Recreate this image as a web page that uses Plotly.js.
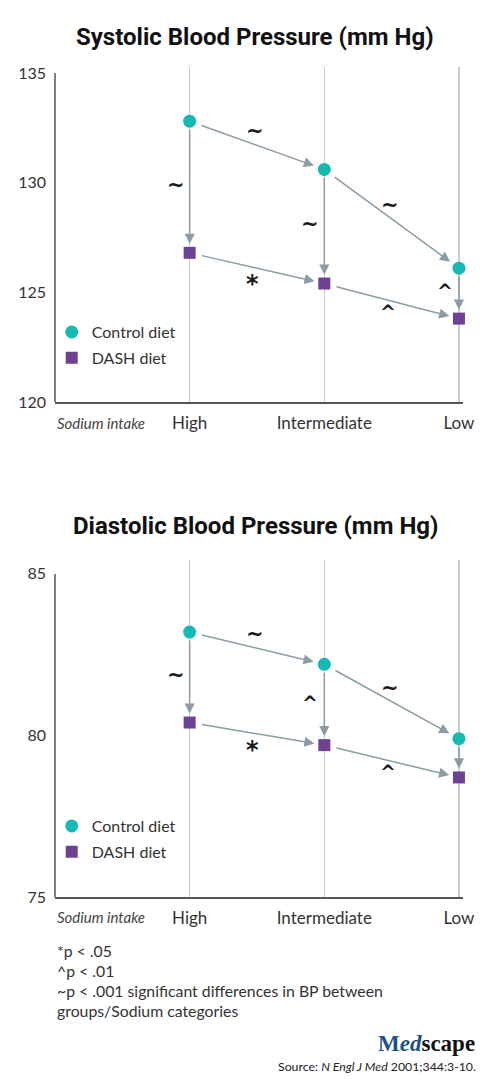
<!DOCTYPE html>
<html>
<head>
<meta charset="utf-8">
<script src="https://cdn.plot.ly/plotly-3.0.1.min.js"></script>
<style>
html,body{margin:0;padding:0;background:#fff;}
#chart{width:500px;height:1080px;}
</style>
</head>
<body>
<div id="chart"></div>
<script>
// ---- data ----
var categories = ['High', 'Intermediate', 'Low'];
var sbpControl = [132.8, 130.6, 126.1];
var sbpDash = [126.8, 125.4, 123.8];
var dbpControl = [83.2, 82.2, 79.9];
var dbpDash = [80.4, 79.7, 78.7];
var sbpTicks = [120, 125, 130, 135];
var dbpTicks = [75, 80, 85];
// significance marks: between sodium levels (control, DASH) and between diets (per level)
var sbpSigControl = ['~', '~'];
var sbpSigDash = ['*', '^'];
var sbpSigDiet = ['~', '~', '^'];
var dbpSigControl = ['~', '~'];
var dbpSigDash = ['*', '^'];
var dbpSigDiet = ['~', '^', ''];
var footnotes = ['*p < .05', '^p < .01', '~p < .001 significant differences in BP between', 'groups/Sodium categories'];

// ---- styles ----
var W = 500, H = 1080;
var TEAL = '#17b9b5', PURPLE = '#6f4192', ARROW = '#8b9ca4', GRID = '#c3ced2', AXIS = '#555555';
var FONT = 'Lato, "Open Sans", sans-serif';
var idx = categories.map(function (c, i) { return i; });

function py(px) { return 1 - px / H; }

var traces = [
  {x: categories, y: sbpControl, type: 'scatter', mode: 'markers', name: 'Control diet', xaxis: 'x', yaxis: 'y', legend: 'legend', legendgroup: 'a',
   marker: {symbol: 'circle', size: 13, color: TEAL}, cliponaxis: false, hoverinfo: 'x+y'},
  {x: categories, y: sbpDash, type: 'scatter', mode: 'markers', name: 'DASH diet', xaxis: 'x', yaxis: 'y', legend: 'legend', legendgroup: 'b',
   marker: {symbol: 'square', size: 12, color: PURPLE}, cliponaxis: false, hoverinfo: 'x+y'},
  {x: categories, y: dbpControl, type: 'scatter', mode: 'markers', name: 'Control diet', xaxis: 'x2', yaxis: 'y2', legend: 'legend2', legendgroup: 'c',
   marker: {symbol: 'circle', size: 13, color: TEAL}, cliponaxis: false, hoverinfo: 'x+y'},
  {x: categories, y: dbpDash, type: 'scatter', mode: 'markers', name: 'DASH diet', xaxis: 'x2', yaxis: 'y2', legend: 'legend2', legendgroup: 'd',
   marker: {symbol: 'square', size: 12, color: PURPLE}, cliponaxis: false, hoverinfo: 'x+y'}
];

var annotations = [];
var shapes = [];

function arrow(xr, yr, x0, y0, x1, y1, ss, so) {
  annotations.push({xref: xr, yref: yr, axref: xr, ayref: yr, x: x1, y: y1, ax: x0, ay: y0, text: '',
    showarrow: true, arrowhead: 2, arrowsize: 1.35, arrowwidth: 1.5, arrowcolor: ARROW, standoff: so, startstandoff: ss});
}
function sig(xr, yr, x, y, t, xs, ys) {
  if (!t) return;
  var size = t === '*' ? 24 : (t === '~' ? 21 : 19);
  var extra = t === '*' ? -5 : 0;
  annotations.push({xref: xr, yref: yr, x: x, y: y, text: t, showarrow: false, xshift: xs, yshift: ys + extra,
    yanchor: 'middle', font: {family: '"DejaVu Sans", sans-serif', size: size, color: '#1a1a1a', weight: 700}});
}

function panel(xr, yr, ctrl, dash, sigC, sigD, sigV) {
  for (var i = 0; i < categories.length - 1; i++) {
    arrow(xr, yr, idx[i], ctrl[i], idx[i + 1], ctrl[i + 1], 11, 11);
    arrow(xr, yr, idx[i], dash[i], idx[i + 1], dash[i + 1], 11, 10);
    sig(xr, yr, (idx[i] + idx[i + 1]) / 2, (ctrl[i] + ctrl[i + 1]) / 2, sigC[i], -2, 14);
    sig(xr, yr, (idx[i] + idx[i + 1]) / 2, (dash[i] + dash[i + 1]) / 2, sigD[i], -4, -11);
  }
  for (var j = 0; j < categories.length; j++) {
    arrow(xr, yr, idx[j], ctrl[j], idx[j], dash[j], 7, 9);
    sig(xr, yr, idx[j], (ctrl[j] + dash[j]) / 2, sigV[j], -14, 2);
  }
}
panel('x', 'y', sbpControl, sbpDash, sbpSigControl, sbpSigDash, sbpSigDiet);
panel('x2', 'y2', dbpControl, dbpDash, dbpSigControl, dbpSigDash, dbpSigDiet);

// left axis lines (stop at top tick)
shapes.push({type: 'line', xref: 'x domain', yref: 'y', x0: 0, x1: 0, y0: sbpTicks[0], y1: sbpTicks[sbpTicks.length - 1], line: {color: AXIS, width: 1.5}});
shapes.push({type: 'line', xref: 'x2 domain', yref: 'y2', x0: 0, x1: 0, y0: dbpTicks[0], y1: dbpTicks[dbpTicks.length - 1], line: {color: AXIS, width: 1.5}});

// plot area: l=55, Low tick at 459
var XR = [-1, 2.03];
var PW = 404 / 3 * (XR[1] - XR[0]);
function px(p) { return (p - 55) / PW; }

// titles
annotations.push({xref: 'paper', yref: 'paper', x: px(255), y: py(37), xanchor: 'center', yanchor: 'middle', text: 'Systolic Blood Pressure (mm Hg)', showarrow: false,
  font: {family: 'Roboto, sans-serif', size: 24, color: '#111', weight: 700}});
annotations.push({xref: 'paper', yref: 'paper', x: px(256), y: py(526), xanchor: 'center', yanchor: 'middle', text: 'Diastolic Blood Pressure (mm Hg)', showarrow: false,
  font: {family: 'Roboto, sans-serif', size: 24, color: '#111', weight: 700}});

// "Sodium intake" labels
annotations.push({xref: 'paper', yref: 'y', x: 0, y: sbpTicks[0], yshift: -21, xanchor: 'left', yanchor: 'middle', text: '<i>Sodium intake</i>', showarrow: false,
  font: {family: FONT, size: 15, color: '#444'}});
annotations.push({xref: 'paper', yref: 'y2', x: 0, y: dbpTicks[0], yshift: -20, xanchor: 'left', yanchor: 'middle', text: '<i>Sodium intake</i>', showarrow: false,
  font: {family: FONT, size: 15, color: '#444'}});

// footnotes
footnotes.forEach(function (t, k) {
  annotations.push({xref: 'paper', yref: 'paper', x: 0, y: py(950 + 20 * k), xanchor: 'left', yanchor: 'middle', text: t, showarrow: false,
    font: {family: FONT, size: 15.8, color: '#333'}});
});
annotations.push({xref: 'paper', yref: 'paper', x: px(477), y: py(1043), xanchor: 'right', yanchor: 'middle',
  text: '<span style="color:#1f4f86">M<i>ed</i></span>scape', showarrow: false,
  font: {family: '"Liberation Serif", serif', size: 23, color: '#111', weight: 700}});
annotations.push({xref: 'paper', yref: 'paper', x: px(478), y: py(1066), xanchor: 'right', yanchor: 'middle',
  text: 'Source: <i>N Engl J Med</i> 2001;344:3-10.', showarrow: false,
  font: {family: FONT, size: 12.3, color: '#222'}});

function xaxis(anchor) {
  return {anchor: anchor, type: 'category', range: XR, showgrid: true, gridcolor: GRID, gridwidth: 1.3,
    showline: true, linecolor: AXIS, linewidth: 1.5, ticks: '', ticklabelstandoff: 5, zeroline: false,
    tickfont: {family: FONT, size: 17, color: '#333'}, fixedrange: true};
}
function yaxis(anchor, domain, range, ticks) {
  return {anchor: anchor, domain: domain, range: range, tickvals: ticks, ticktext: ticks.map(String), showgrid: false, zeroline: false,
    showline: false, ticks: '', ticklabelstandoff: 8, tickfont: {family: FONT, size: 16, color: '#333'}, fixedrange: true};
}

var layout = {
  width: W, height: H,
  margin: {l: 55, r: W - 55 - PW, t: 0, b: 0},
  paper_bgcolor: '#fff', plot_bgcolor: '#fff',
  showlegend: true,
  xaxis: xaxis('y'),
  yaxis: yaxis('x', [py(402), py(67)], [120, 135.27], sbpTicks),
  xaxis2: xaxis('y2'),
  yaxis2: yaxis('x2', [py(897), py(560)], [75, 85.43], dbpTicks),
  legend: {x: -0.008, xanchor: 'left', y: py(345), yanchor: 'middle', bgcolor: 'rgba(0,0,0,0)', tracegroupgap: 2,
    font: {family: FONT, size: 16, color: '#333'}, itemclick: false, itemdoubleclick: false},
  legend2: {x: -0.008, xanchor: 'left', y: py(839), yanchor: 'middle', bgcolor: 'rgba(0,0,0,0)', tracegroupgap: 2,
    font: {family: FONT, size: 16, color: '#333'}, itemclick: false, itemdoubleclick: false},
  annotations: annotations,
  shapes: shapes
};

Plotly.newPlot('chart', traces, layout, {displayModeBar: false, staticPlot: true});
</script>
</body>
</html>
